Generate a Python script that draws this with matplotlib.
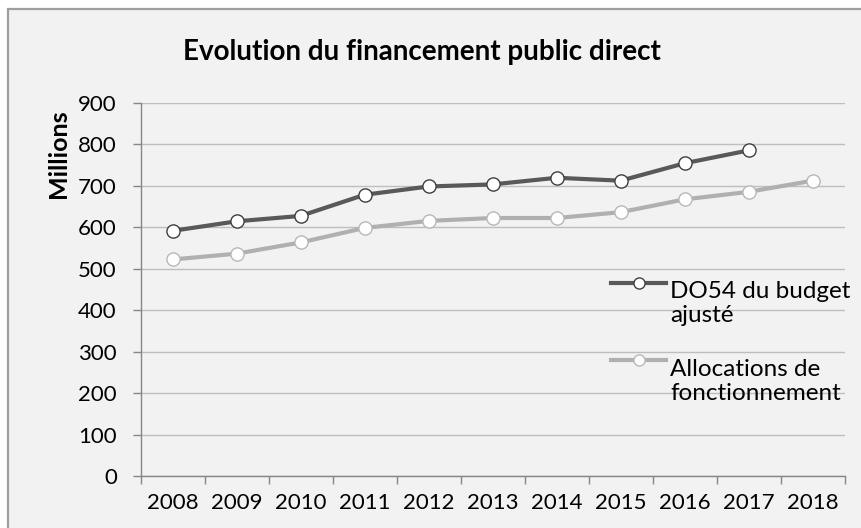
import matplotlib
matplotlib.use("Agg")
import matplotlib.pyplot as plt
from matplotlib.patches import Rectangle
from matplotlib.lines import Line2D

# data (millions)
years = ['2008', '2009', '2010', '2011', '2012', '2013', '2014', '2015', '2016', '2017', '2018']
do54 = [591, 614, 627, 678, 698, 703, 719, 712, 754, 785]
allocations = [522, 536, 563, 598, 615, 622, 622, 636, 667, 685, 712]
series_names = ['DO54 du budget\najusté', 'Allocations de\nfonctionnement']
yticks = [0, 100, 200, 300, 400, 500, 600, 700, 800, 900]

plt.rcParams['font.family'] = ['Lato', 'DejaVu Sans']

W, H = 861, 528
fig = plt.figure(figsize=(W / 100, H / 100), dpi=100)
fig.patch.set_facecolor('white')

def fx(px):
    return px / W

def fy(py):
    return 1 - py / H

# chart area box
fig.patches.append(Rectangle((fx(7.5), fy(540)), fx(870), fy(9.5) - fy(540),
                             transform=fig.transFigure, facecolor='#F2F2F2',
                             edgecolor='#9E9E9E', lw=1.6, zorder=-5))

ax = fig.add_axes([fx(140.5), fy(476), fx(844.7) - fx(140.5), fy(102.7) - fy(476)])
ax.set_facecolor('none')
ax.set_zorder(2)

x = list(range(len(years)))
dark = '#595959'
light = '#B0B0B0'
ax.plot(x[:len(do54)], do54, color=dark, lw=3.0, marker='o', ms=9.5,
        mfc='white', mec='#3F3F3F', mew=1.0, zorder=3, solid_capstyle='round')
ax.plot(x, allocations, color=light, lw=3.0, marker='o', ms=9.5,
        mfc='white', mec='#B8B8B8', mew=1.0, zorder=3, solid_capstyle='round')

ax.set_xlim(-0.5, len(years) - 0.5)
ax.set_ylim(0, 900)
ax.set_yticks(yticks)
ax.set_xticks([i - 0.5 for i in range(len(years) + 1)])
ax.set_xticklabels([])
ax.set_xticks(x, minor=True)
ax.set_xticklabels(years, minor=True)
ax.tick_params(axis='x', which='minor', length=0, labelsize=16, pad=12)
ax.tick_params(axis='x', which='major', length=6, color='#868686', width=1)
ax.tick_params(axis='y', length=6, color='#868686', width=1, labelsize=16, pad=11)

ax.grid(axis='y', color='#BEBEBE', lw=1)
ax.set_axisbelow(True)
for s in ['top', 'right']:
    ax.spines[s].set_visible(False)
for s in ['left', 'bottom']:
    ax.spines[s].set_color('#868686')
    ax.spines[s].set_linewidth(1)

fig.text(fx(422), fy(52), 'Evolution du financement public direct',
         ha='center', va='center', fontsize=20, fontweight='bold')
fig.text(fx(58), fy(154), 'Millions', rotation=90, ha='center', va='center',
         fontsize=18, fontweight='bold')

# legend, drawn by hand so the key sits on the first text line
for name, col, mec, ly, tb in [(series_names[0], dark, '#3F3F3F', 283, 322),
                               (series_names[1], light, '#B8B8B8', 360, 400)]:
    fig.lines.append(Line2D([fx(611), fx(666)], [fy(ly), fy(ly)], color=col, lw=3.0,
                            transform=fig.transFigure, zorder=4))
    fig.lines.append(Line2D([fx(639)], [fy(ly)], marker='o', ms=8, mfc='white',
                            mec=mec, mew=1.0, transform=fig.transFigure, zorder=5))
    fig.text(fx(670), fy(tb), name, ha='left', va='baseline', fontsize=17.5,
             linespacing=1.2, zorder=5)

fig.savefig('out.png', dpi=100, facecolor=fig.get_facecolor())
